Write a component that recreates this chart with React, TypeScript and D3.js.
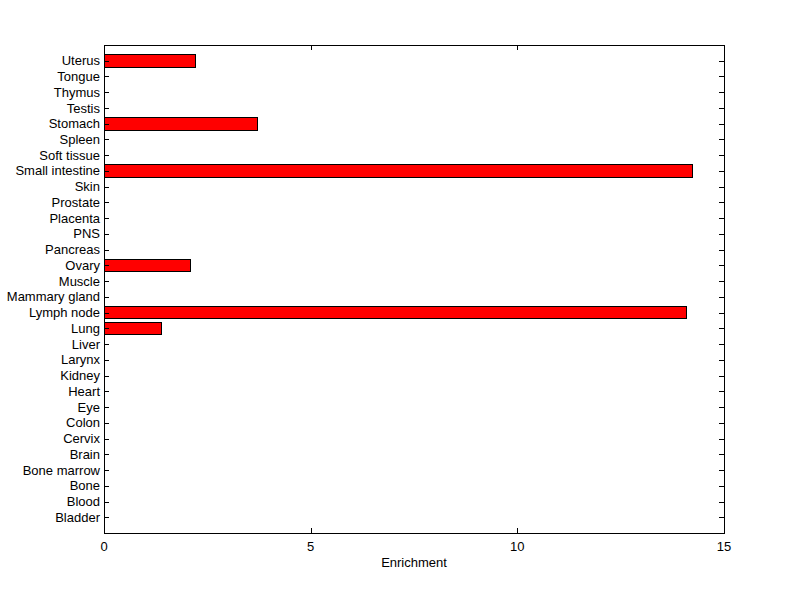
import React from "react";
import * as d3 from "d3";

const categories = [
  "Bladder", "Blood", "Bone", "Bone marrow", "Brain", "Cervix", "Colon", "Eye",
  "Heart", "Kidney", "Larynx", "Liver", "Lung", "Lymph node", "Mammary gland",
  "Muscle", "Ovary", "Pancreas", "PNS", "Placenta", "Prostate", "Skin",
  "Small intestine", "Soft tissue", "Spleen", "Stomach", "Testis", "Thymus",
  "Tongue", "Uterus",
];
const values = [
  0, 0, 0, 0, 0, 0, 0, 0,
  0, 0, 0, 0, 1.39, 14.1, 0,
  0, 2.09, 0, 0, 0, 0, 0,
  14.23, 0, 0, 3.72, 0, 0,
  0, 2.22,
];
const xTicks = [0, 5, 10, 15];
const xLabel = "Enrichment";

export default function App() {
  const W = 800, H = 599;
  const left = 104, right = 724, top = 45, bottom = 533;
  const x = d3.scaleLinear().domain([0, 15]).range([left, right]);
  const y = d3.scaleLinear().domain([0, categories.length + 1]).range([bottom, top]);
  const bw = (y(0) - y(0.8));
  const font = "'Liberation Sans', Arial, sans-serif";
  const tl = 5;
  return (
    <svg width={W} height={H} style={{ position: "absolute", left: 0, top: 0, background: "#fff" }}
      fontFamily={font} fontSize={13}>
      <rect x={0} y={0} width={W} height={H} fill="#fff" />
      {values.map((v, i) => v > 0 ? (
        <rect key={i} x={x(0)} y={y(i + 1) - bw / 2} width={x(v) - x(0)} height={bw}
          fill="#ff0000" stroke="#000" strokeWidth={1} shapeRendering="crispEdges" />
      ) : null)}
      <rect x={left} y={top} width={right - left} height={bottom - top} fill="none" stroke="#000" strokeWidth={1} shapeRendering="crispEdges" />
      {categories.map((c, i) => (
        <g key={c}>
          <line x1={left} x2={left + tl} y1={Math.round(y(i + 1)) + 0.5} y2={Math.round(y(i + 1)) + 0.5} stroke="#000" />
          <line x1={right} x2={right - tl} y1={Math.round(y(i + 1)) + 0.5} y2={Math.round(y(i + 1)) + 0.5} stroke="#000" />
          <text x={left - 4} y={y(i + 1)} dy="0.35em" textAnchor="end" fill="#000">{c}</text>
        </g>
      ))}
      {xTicks.map((t) => (
        <g key={t}>
          <line x1={Math.round(x(t)) + 0.5} x2={Math.round(x(t)) + 0.5} y1={bottom} y2={bottom - tl} stroke="#000" />
          <line x1={Math.round(x(t)) + 0.5} x2={Math.round(x(t)) + 0.5} y1={top} y2={top + tl} stroke="#000" />
          <text x={x(t)} y={bottom + 18} textAnchor="middle" fill="#000">{t}</text>
        </g>
      ))}
      <text x={(left + right) / 2} y={bottom + 34} textAnchor="middle" fill="#000">{xLabel}</text>
    </svg>
  );
}
